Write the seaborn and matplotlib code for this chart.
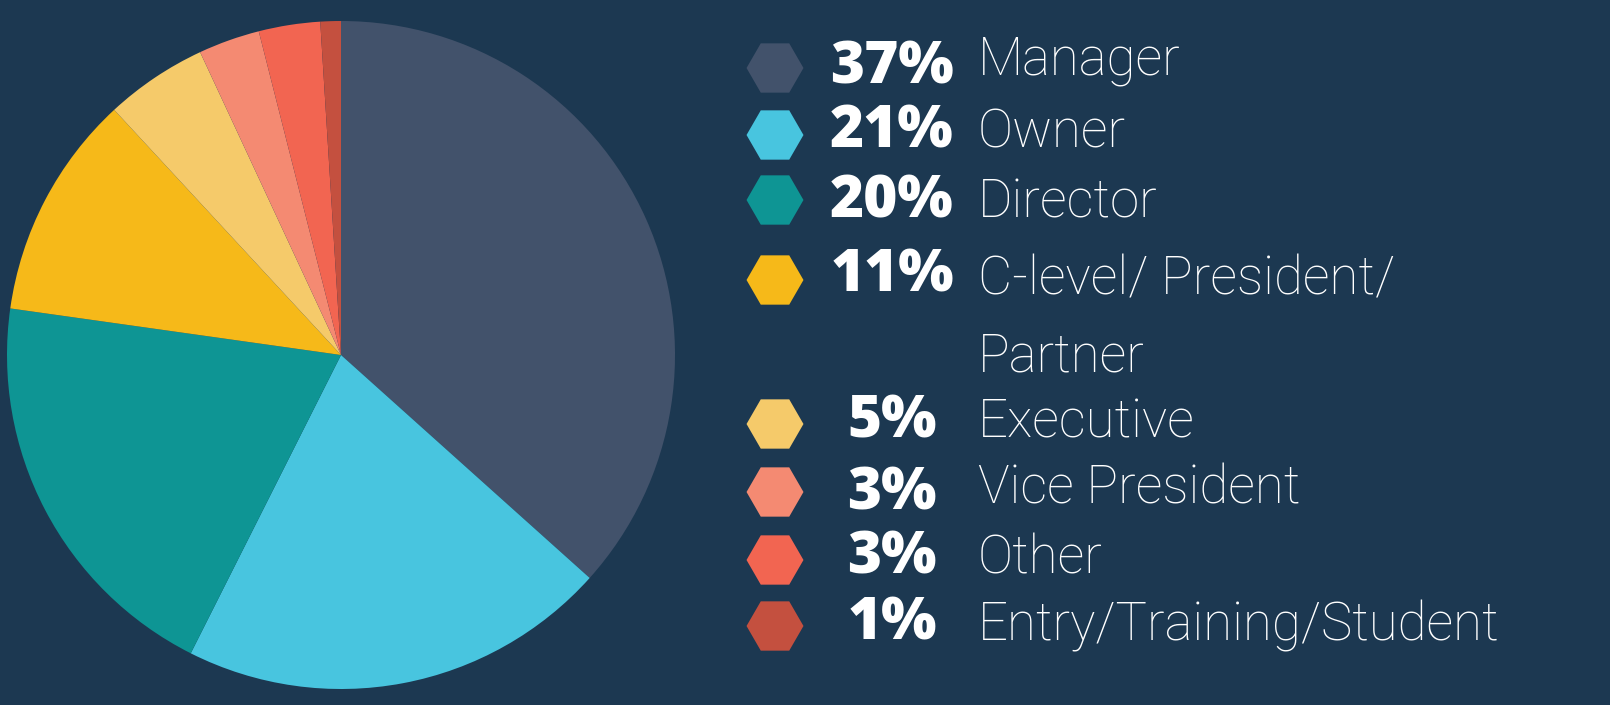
import matplotlib
matplotlib.use("Agg")
import matplotlib.pyplot as plt
import seaborn as sns
import pandas as pd

# data
roles = ["Manager", "Owner", "Director", "C-level/ President/\nPartner",
         "Executive", "Vice President", "Other", "Entry/Training/Student"]
shares = [37, 21, 20, 11, 5, 3, 3, 1]
colors = ["#42526b", "#48c5df", "#0e9594", "#f6b919",
          "#f5ca6a", "#f48a72", "#f26551", "#c4503f"]

bg = "#1c3851"
sns.set_theme(style="white", rc={"figure.facecolor": bg, "axes.facecolor": bg,
                                 "savefig.facecolor": bg})

W, H = 1610, 705
fig = plt.figure(figsize=(W / 100, H / 100), dpi=100)

# pie
cx, cy, r = 341, 355, 334
ax = fig.add_axes([(cx - r) / W, (H - cy - r) / H, 2 * r / W, 2 * r / H])
ax.pie(shares, colors=colors, startangle=90, counterclock=False,
       wedgeprops=dict(linewidth=0))
ax.set_xlim(-1, 1)
ax.set_ylim(-1, 1)
ax.set_aspect("equal")
ax.axis("off")

# legend area in pixel coords
lg = fig.add_axes([0, 0, 1, 1])
lg.set_xlim(0, W)
lg.set_ylim(H, 0)
lg.axis("off")

hex_y = [68, 135, 200, 280, 424, 492, 560, 626]
pct_base = [83, 147, 217, 291, 438, 510, 573, 640]
lab_base = [75, 147, 217, 295, 437, 503, 573, 640]

df = pd.DataFrame({"role": roles, "share": shares, "y": hex_y})
df["x"] = 775
sns.scatterplot(data=df, x="x", y="y", hue="role", palette=colors,
                marker="H", s=41 ** 2, linewidth=0, legend=False, ax=lg)
lg.set_xlim(0, W)
lg.set_ylim(H, 0)
lg.axis("off")

for i, (role, val) in enumerate(zip(roles, shares)):
    lg.text(892, pct_base[i], f"{val}%", ha="center", va="baseline",
            color="white", fontsize=42, fontweight="heavy",
            family="Open Sans")
    lines = role.split("\n")
    for j, line in enumerate(lines):
        lg.text(978, lab_base[i] + 77 * j, line, ha="left", va="baseline",
                color="white", fontsize=38, fontweight="light",
                family="Roboto")

fig.savefig("out.png", dpi=100)
